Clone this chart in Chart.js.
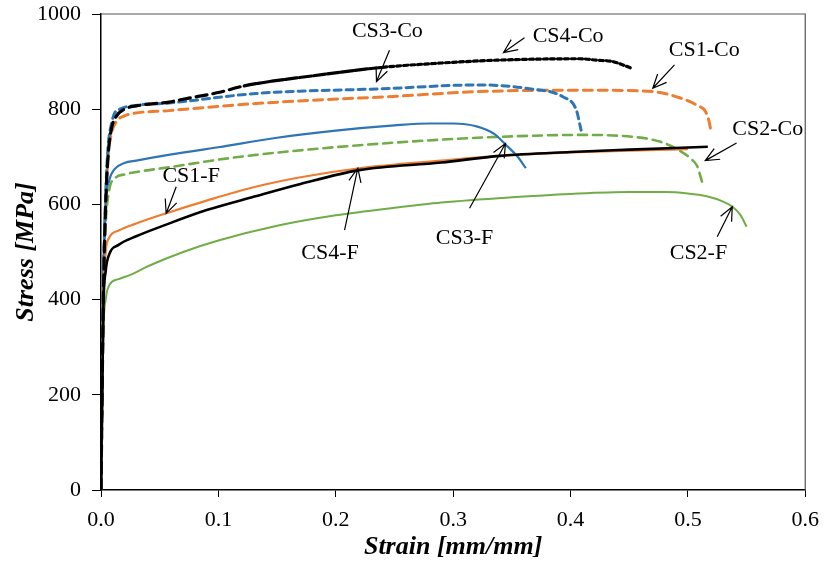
<!DOCTYPE html>
<html>
<head>
<meta charset="utf-8">
<script src="https://cdn.jsdelivr.net/npm/chart.js@4/dist/chart.umd.min.js"></script>
<style>
    html, body { margin: 0; padding: 0; background: #fff; }
    #wrap { width: 829px; height: 565px; }
</style>
</head>
<body>
<div id="wrap"><canvas id="chart"></canvas></div>
<script>
// Curvas tensão-deformação (strain em mm/mm, stress em MPa)
const cs1fStrain = [0, 0.002, 0.004, 0.007, 0.015, 0.03, 0.055, 0.09, 0.13, 0.17, 0.22, 0.29, 0.34, 0.4, 0.45, 0.5];
const cs1fStress = [0, 400, 500, 530, 545, 560, 581, 608, 636, 657, 676, 692, 702, 709, 713, 716];

const cs4fStrain = [0, 0.002, 0.004, 0.007, 0.015, 0.03, 0.055, 0.09, 0.13, 0.17, 0.22, 0.29, 0.34, 0.4, 0.45, 0.517];
const cs4fStress = [0, 380, 460, 495, 515, 533, 557, 588, 616, 643, 672, 688, 702, 710, 715, 721];

const cs2fStrain = [0, 0.002, 0.004, 0.007, 0.015, 0.025, 0.04, 0.07, 0.1, 0.15, 0.2, 0.25, 0.29, 0.35, 0.4, 0.45, 0.48, 0.5, 0.516, 0.53, 0.538, 0.545, 0.55];
const cs2fStress = [0, 330, 400, 430, 443, 452, 470, 500, 524, 555, 577, 593, 604, 615, 622, 626, 626, 623, 617, 606, 595, 577, 553];

const cs3fStrain = [0, 0.002, 0.004, 0.007, 0.012, 0.02, 0.03, 0.06, 0.1, 0.15, 0.2, 0.25, 0.28, 0.3, 0.32, 0.335, 0.345, 0.355, 0.362];
const cs3fStress = [0, 450, 600, 650, 675, 687, 692, 705, 720, 740, 755, 766, 770, 770, 764, 748, 725, 700, 676];

const cs2coStrain = [0, 0.002, 0.004, 0.007, 0.012, 0.02, 0.035, 0.058, 0.1, 0.132, 0.18, 0.24, 0.29, 0.34, 0.408, 0.453, 0.476, 0.493, 0.503, 0.508, 0.512];
const cs2coStress = [0, 420, 560, 630, 655, 663, 670, 678, 694, 704, 716, 728, 736, 742, 746, 742, 732, 713, 695, 680, 648];

const cs1coStrain = [0, 0.002, 0.004, 0.006, 0.009, 0.013, 0.02, 0.027, 0.058, 0.1, 0.132, 0.19, 0.243, 0.322, 0.408, 0.47, 0.493, 0.508, 0.515, 0.518, 0.52];
const cs1coStress = [0, 420, 600, 700, 750, 774, 786, 791, 797, 806, 812, 820, 826, 837, 840, 837, 824, 808, 795, 775, 749];

const cs3coStrain = [0, 0.002, 0.004, 0.006, 0.009, 0.0115, 0.016, 0.033, 0.058, 0.132, 0.24, 0.322, 0.365, 0.3935, 0.405, 0.409];
const cs3coStress = [0, 420, 620, 720, 770, 791, 800, 809, 813, 833, 843, 851, 843, 826, 798, 756];

const cs4coStrain = [0, 0.002, 0.004, 0.006, 0.009, 0.013, 0.02, 0.03, 0.058, 0.07, 0.1, 0.122, 0.18, 0.24, 0.29, 0.337, 0.408, 0.422, 0.436, 0.452];
const cs4coStress = [0, 400, 600, 700, 760, 785, 800, 807, 815, 821, 835, 849, 870, 888, 897, 903, 906, 903, 900, 886];

// Rótulos com seta (coordenadas nos eixos do gráfico)
const notas = [
    { text: 'CS3-Co', at: [0.244, 964], from: [0.2458, 924], to: [0.2347, 858] },
    { text: 'CS4-Co', at: [0.398, 954], from: [0.3608, 950], to: [0.3429, 919] },
    { text: 'CS1-Co', at: [0.514, 924], from: [0.4886, 893], to: [0.4701, 844] },
    { text: 'CS2-Co', at: [0.568, 758], from: [0.5415, 729], to: [0.5148, 692] },
    { text: 'CS1-F', at: [0.0768, 660], from: [0.0641, 637], to: [0.0555, 581] },
    { text: 'CS4-F', at: [0.1951, 497], from: [0.2075, 546], to: [0.2188, 676] },
    { text: 'CS3-F', at: [0.3097, 528], from: [0.314, 592], to: [0.3446, 728] },
    { text: 'CS2-F', at: [0.509, 498], from: [0.525, 532], to: [0.5378, 595] }
];

const AZUL = '#2E75B6', LARANJA = '#ED7D31', VERDE = '#70AD47', PRETO = '#000000';

function pares(xs, ys) {
    return xs.map((v, i) => ({ x: v, y: ys[i] }));
}

function serie(label, xs, ys, cor, largura, tracejado, ordem) {
    return {
        label: label,
        data: pares(xs, ys),
        borderColor: cor,
        backgroundColor: cor,
        borderWidth: largura,
        borderDash: tracejado,
        borderCapStyle: tracejado.length ? 'round' : 'butt',
        pointRadius: 0,
        showLine: true,
        cubicInterpolationMode: 'monotone',
        order: ordem
    };
}

// CS4-Co: traço longo no início, quase contínuo no meio, pontilhado no fim
const cs4co = serie('CS4-Co', cs4coStrain, cs4coStress, PRETO, 3.2, [4, 3], 1);
cs4co.segment = {
    borderDash: c => {
        const x = c.p0.parsed.x;
        if (x < 0.12) return [11, 6];
        if (x < 0.24) return [12, 2];
        return [4, 3];
    }
};

const datasets = [
    serie('CS4-F', cs4fStrain, cs4fStress, PRETO, 2.6, [], 2),
    serie('CS1-F', cs1fStrain, cs1fStress, LARANJA, 2.2, [], 3),
    serie('CS3-F', cs3fStrain, cs3fStress, AZUL, 2.2, [], 4),
    serie('CS2-F', cs2fStrain, cs2fStress, VERDE, 2, [], 5),
    cs4co,
    serie('CS3-Co', cs3coStrain, cs3coStress, AZUL, 3, [7, 5], 6),
    serie('CS1-Co', cs1coStrain, cs1coStress, LARANJA, 3, [9, 6], 7),
    serie('CS2-Co', cs2coStrain, cs2coStress, VERDE, 2.6, [9, 6], 8)
];

const overlay = {
    id: 'overlay',
    afterDatasetsDraw(chart) {
        const { ctx, chartArea: a, scales: { x, y } } = chart;
        ctx.save();
        // moldura superior e direita
        ctx.strokeStyle = '#555';
        ctx.lineWidth = 1.2;
        ctx.beginPath();
        ctx.moveTo(a.left, a.top);
        ctx.lineTo(a.right, a.top);
        ctx.lineTo(a.right, a.bottom);
        ctx.stroke();

        ctx.strokeStyle = '#000';
        ctx.fillStyle = '#000';
        ctx.lineWidth = 1.2;
        ctx.font = '22px "Liberation Serif", "Times New Roman", serif';
        ctx.textAlign = 'center';
        ctx.textBaseline = 'middle';
        notas.forEach(n => {
            ctx.fillText(n.text, x.getPixelForValue(n.at[0]), y.getPixelForValue(n.at[1]));
            const fx = x.getPixelForValue(n.from[0]), fy = y.getPixelForValue(n.from[1]);
            const tx = x.getPixelForValue(n.to[0]), ty = y.getPixelForValue(n.to[1]);
            const ang = Math.atan2(ty - fy, tx - fx);
            const len = 15, abre = 0.42;
            ctx.beginPath();
            ctx.moveTo(fx, fy);
            ctx.lineTo(tx, ty);
            ctx.moveTo(tx - len * Math.cos(ang - abre), ty - len * Math.sin(ang - abre));
            ctx.lineTo(tx, ty);
            ctx.lineTo(tx - len * Math.cos(ang + abre), ty - len * Math.sin(ang + abre));
            ctx.stroke();
        });
        ctx.restore();
    }
};

const fonteTick = { family: '"Liberation Serif", "Times New Roman", serif', size: 22 };
const fonteTitulo = { family: '"Liberation Serif", "Times New Roman", serif', size: 26, weight: 'bold', style: 'italic' };

new Chart(document.getElementById('chart'), {
    type: 'scatter',
    data: { datasets: datasets },
    options: {
        responsive: true,
        maintainAspectRatio: false,
        animation: false,
        layout: { autoPadding: false, padding: { top: 14, right: 23, left: 0, bottom: 0 } },
        plugins: { legend: { display: false }, tooltip: { enabled: false } },
        scales: {
            x: {
                type: 'linear',
                min: 0, max: 0.6,
                afterFit: s => { s.height = 75; },
                border: { display: true, color: '#000', width: 1.5 },
                grid: { drawOnChartArea: false, drawTicks: true, tickLength: 7, color: '#000', tickColor: '#000' },
                ticks: { stepSize: 0.1, padding: 10, color: '#000', font: fonteTick, callback: v => v.toFixed(1) },
                title: { display: true, text: 'Strain [mm/mm]', color: '#000', font: fonteTitulo, padding: { top: 0, bottom: 2 } }
            },
            y: {
                min: 0, max: 1000,
                afterFit: s => { s.width = 101; s.paddingTop = 0; s.paddingBottom = 0; },
                border: { display: true, color: '#000', width: 1.5 },
                grid: { drawOnChartArea: false, drawTicks: true, tickLength: 9, color: '#000', tickColor: '#000' },
                ticks: { stepSize: 200, padding: 11, color: '#000', font: fonteTick, callback: v => String(v) },
                title: { display: true, text: 'Stress [MPa]', color: '#000', font: fonteTitulo, padding: { top: 11, bottom: 0 } }
            }
        }
    },
    plugins: [overlay]
});
</script>
</body>
</html>
